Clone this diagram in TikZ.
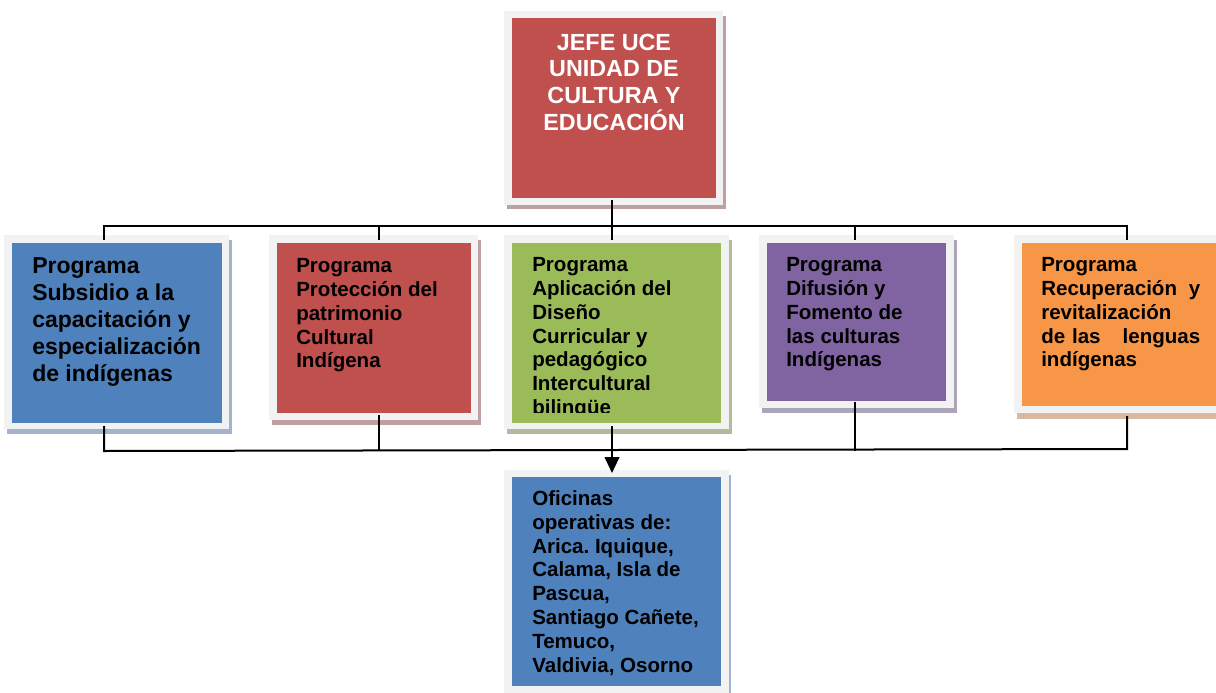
\documentclass[tikz,border=0pt]{standalone}
\usepackage{fontspec}
\setmainfont{Liberation Sans}
\usetikzlibrary{arrows.meta,fit}
\definecolor{cred}{HTML}{C0504D}
\definecolor{cblue}{HTML}{4F81BD}
\definecolor{cgreen}{HTML}{9BBB59}
\definecolor{cpurple}{HTML}{8064A2}
\definecolor{corange}{HTML}{F79646}
\definecolor{framec}{HTML}{F2F2F2}
\definecolor{shred}{HTML}{BFA0A0}
\definecolor{shblue}{HTML}{A3B3C9}
\definecolor{shgreen}{HTML}{B2BC9A}
\definecolor{shpurple}{HTML}{ACA5BA}
\definecolor{shorange}{HTML}{D9B9A0}
\tikzset{
  framebox/.style={fill=framec, draw=none, inner sep=0pt},
  txt/.style={inner sep=0pt, align=left, anchor=north west, text=black,
    font=\frenchspacing\bfseries\fontsize{15.4pt}{17.85pt}\selectfont},
  bigtxt/.style={txt, font=\frenchspacing\bfseries\fontsize{17.25pt}{20.25pt}\selectfont},
  toptxt/.style={inner sep=0pt, align=center, anchor=north, text=white,
    font=\bfseries\fontsize{17.5pt}{20pt}\selectfont},
  conn/.style={draw=black, line width=1.5pt},
  arr/.style={conn, -{Triangle[length=12pt, width=11pt]}}
}
\begin{document}
\begin{tikzpicture}[x=0.75pt,y=-0.75pt]
\useasboundingbox (0,0) rectangle (1216,692);
\clip (0,0) rectangle (1216,692);
% shadows
\fill[shred]    (507,16) rectangle (726,209);
\fill[shblue]   (7,240) rectangle (232,434);
\fill[shred]    (272,240) rectangle (481,425);
\fill[shgreen]  (507,240) rectangle (732,434);
\fill[shpurple] (762,240) rectangle (957,413);
\fill[shorange] (1017,240) rectangle (1230,419);
\fill[shblue]   (507,475) rectangle (731,700);
% frames
\node[framebox, fit={(504,11) (723,205)}] (top) {};
\node[framebox, fit={(4,235) (229,429)}] (p1) {};
\node[framebox, fit={(269,235) (478,420)}] (p2) {};
\node[framebox, fit={(504,235) (729,429)}] (p3) {};
\node[framebox, fit={(759,235) (954,408)}] (p4) {};
\node[framebox, fit={(1014,235) (1230,413)}] (p5) {};
\node[framebox, fit={(504,470) (729,700)}] (ofi) {};
% inner fills
\fill[cred]    (512,18) rectangle (716,198);
\fill[cblue]   (12,243) rectangle (222,423);
\fill[cred]    (277,243) rectangle (471,413);
\fill[cgreen]  (512,243) rectangle (721,423);
\fill[cpurple] (767,243) rectangle (946,401);
\fill[corange] (1022,243) rectangle (1230,406);
\fill[cblue]   (512,477) rectangle (721,686);
% texts
\node[toptxt] (ttop) at (614,33.5) {JEFE UCE\\UNIDAD DE\\CULTURA Y\\EDUCACIÓN};
\node[bigtxt] (t1) at (32,257.5) {Programa\\Subsidio a la\\capacitación y\\especialización\\de indígenas};
\node[txt] (t2) at (296,258.3) {Programa\\Protección del\\patrimonio\\Cultural\\Indígena};
\begin{scope}
\clip (512,243) rectangle (721,412);
\node[txt] (t3) at (532,257.3) {Programa\\Aplicación del\\Diseño\\Curricular y\\pedagógico\\Intercultural\\bilingüe};
\end{scope}
\node[txt] (t4) at (786,257.3) {Programa\\Difusión y\\Fomento de\\las culturas\\Indígenas};
\node[txt, text width=119.25pt] (t5) at (1041,257.3) {Programa\\Recuperación\hfill y\\revitalización\\de las\hfill lenguas\\indígenas};
\node[txt] (t6) at (532,490.3) {Oficinas\\operativas de:\\Arica. Iquique,\\Calama, Isla de\\Pascua,\\Santiago Cañete,\\Temuco,\\Valdivia, Osorno};
% connector points
\coordinate (bu1) at (104,226);
\coordinate (bu5) at (1127,226);
\coordinate (bl1) at (104,451);
\coordinate (bl5) at (1127,449);
\coordinate (a1) at (104,240);  \coordinate (b1) at (104,426);
\coordinate (a2) at (379,240);  \coordinate (b2) at (379,415);
\coordinate (a3) at (612,240);  \coordinate (b3) at (612,426);
\coordinate (a4) at (855,240);  \coordinate (b4) at (855,402);
\coordinate (a5) at (1127,240); \coordinate (b5) at (1127,416);
\coordinate (t0) at (612,200);
\coordinate (oin) at (612,473);
% upper bus
\draw[conn] (t0) -- (t0 |- bu1);
\draw[conn] (a1) -- (bu1) -- (bu5) -- (a5);
\draw[conn] (a2 |- bu1) -- (a2);
\draw[conn] (a3 |- bu1) -- (a3);
\draw[conn] (a4 |- bu1) -- (a4);
% lower bus
\draw[conn] (b1) -- (bl1) -- (bl5) -- (b5);
\draw[conn] (b2) -- (b2 |- bl1);
\draw[conn] (b4) -- (b4 |- bl1);
\draw[arr] (b3) -- (oin);
\end{tikzpicture}
\end{document}
